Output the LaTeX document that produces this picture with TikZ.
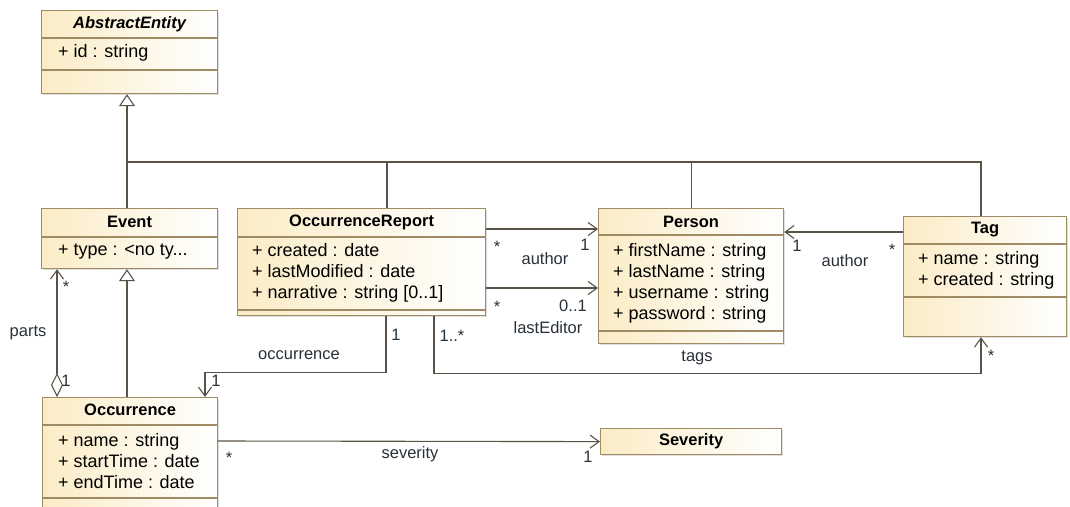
\documentclass[tikz,border=0pt]{standalone}
\usepackage{fontspec}
\setmainfont{Liberation Sans}
\usepackage{xcolor}
\usepackage{tikz}
\usetikzlibrary{calc}
\usetikzlibrary{arrows.meta}
\usetikzlibrary{shadows}
\definecolor{boxline}{RGB}{160,140,100}
\definecolor{boxfill}{RGB}{251,236,198}
\definecolor{wirec}{RGB}{90,82,70}
\definecolor{lblc}{RGB}{40,48,58}
\tikzstyle{classbox} = [draw=boxline, line width=1.2pt, rectangle, anchor=north west,
left color=boxfill, right color=white,
drop shadow={shadow xshift=1.5pt, shadow yshift=-1.5pt, opacity=0.25}]
\tikzstyle{ctitle} = [font=\fontsize{16.5}{18}\selectfont\bfseries, inner sep=0pt]
\tikzstyle{attr} = [font=\fontsize{18}{21}\selectfont, align=left, anchor=west, inner sep=0pt]
\tikzstyle{divider} = [draw=boxline, line width=1.2pt]
\tikzstyle{plain} = [draw=wirec, line width=1.1pt]
\tikzstyle{assoc} = [plain, -{Straight Barb[length=9pt,width=13pt]}]
\tikzstyle{gen} = [plain, -{Triangle[open,length=12pt,width=16pt,fill=white]}]
\tikzstyle{lbl} = [font=\fontsize{16.5}{18}\selectfont, text=lblc, inner sep=0pt]

\begin{document}
\begin{tikzpicture}[x=1pt, y=-1pt]
\useasboundingbox (0,0) rectangle (1070,506);

\node[classbox, minimum width=176pt, minimum height=83pt] (abstract) at (41,10) {};
\node[ctitle, font=\fontsize{16.5}{18}\selectfont\bfseries\itshape] at ($(abstract.north)+(0,14)$) {AbstractEntity};
\draw[divider] ($(abstract.north west)+(0,28)$) -- ($(abstract.north east)+(0,28)$);
\node[attr] at ($(abstract.north west)+(17,43)$) {+ id : string};
\draw[divider] ($(abstract.north west)+(0,60)$) -- ($(abstract.north east)+(0,60)$);

\node[classbox, minimum width=176pt, minimum height=60pt] (event) at (41,208) {};
\node[ctitle] at ($(event.north)+(0,14)$) {Event};
\draw[divider] ($(event.north west)+(0,29)$) -- ($(event.north east)+(0,29)$);
\node[attr] at ($(event.north west)+(17,44)$) {+ type : <no ty...};

\node[classbox, minimum width=248pt, minimum height=107pt] (report) at (237,208) {};
\node[ctitle] at ($(report.north)+(0,14)$) {OccurrenceReport};
\draw[divider] ($(report.north west)+(0,29)$) -- ($(report.north east)+(0,29)$);
\node[attr] at ($(report.north west)+(15,65)$) {+ created : date\\+ lastModified : date\\+ narrative : string [0..1]};
\draw[divider] ($(report.north west)+(0,102)$) -- ($(report.north east)+(0,102)$);

\node[classbox, minimum width=185pt, minimum height=135pt] (person) at (598,208) {};
\node[ctitle] at ($(person.north)+(0,14)$) {Person};
\draw[divider] ($(person.north west)+(0,27)$) -- ($(person.north east)+(0,27)$);
\node[attr] at ($(person.north west)+(15,75)$) {+ firstName : string\\+ lastName : string\\+ username : string\\+ password : string};
\draw[divider] ($(person.north west)+(0,123)$) -- ($(person.north east)+(0,123)$);

\node[classbox, minimum width=163pt, minimum height=120pt] (tag) at (903,216) {};
\node[ctitle] at ($(tag.north)+(0,14)$) {Tag};
\draw[divider] ($(tag.north west)+(0,28)$) -- ($(tag.north east)+(0,28)$);
\node[attr] at ($(tag.north west)+(15,54)$) {+ name : string\\+ created : string};
\draw[divider] ($(tag.north west)+(0,81)$) -- ($(tag.north east)+(0,81)$);

\node[classbox, minimum width=175pt, minimum height=115pt] (occ) at (42,397) {};
\node[ctitle] at ($(occ.north)+(0,13)$) {Occurrence};
\draw[divider] ($(occ.north west)+(0,28)$) -- ($(occ.north east)+(0,28)$);
\node[attr] at ($(occ.north west)+(16,64)$) {+ name : string\\+ startTime : date\\+ endTime : date};
\draw[divider] ($(occ.north west)+(0,101)$) -- ($(occ.north east)+(0,101)$);

\node[classbox, minimum width=181pt, minimum height=26pt] (severity) at (600,428) {};
\node[ctitle] at (severity.center) {Severity};

\coordinate (bus) at (127,162);
\draw[gen] (bus) -- (bus |- abstract.south);
\draw[plain] (bus |- event.north) -- (bus);
\draw[plain] ($(report.north west)+(150,0)$) |- (bus);
\draw[plain] (person.north) |- (bus);
\draw[plain] ($(tag.north west)+(78,0)$) |- (bus);
\draw[gen] (bus |- occ.north) -- (bus |- event.south);
\draw[plain, {Diamond[open,length=24pt,width=12pt]}-{Straight Barb[length=9pt,width=13pt]}] ($(occ.north west)+(15,0)$) -- ($(event.south west)+(16,0)$);
\draw[assoc] ($(report.north east)+(0,21)$) -- ($(person.north west)+(0,21)$);
\draw[assoc] ($(report.north east)+(0,80)$) -- ($(person.north west)+(0,80)$);
\draw[assoc] ($(tag.north west)+(0,16)$) -- ($(person.north east)+(0,24)$);
\draw[assoc] ($(report.south west)+(149,0)$) -- ++(0,56) -| ($(occ.north west)+(163,0)$);
\draw[assoc] ($(report.south west)+(197,0)$) -- ++(0,57) -| ($(tag.south west)+(78,0)$);
\draw[assoc] ($(occ.north east)+(0,44)$) -- (severity.west);

\node[lbl] at (28,333) {parts};
\node[lbl] at (66,287) {*};
\node[lbl] at (66,381) {1};
\node[lbl] at (497,247) {*};
\node[lbl] at (585,245) {1};
\node[lbl] at (545,259) {author};
\node[lbl] at (497,307) {*};
\node[lbl] at (573,306) {0..1};
\node[lbl] at (548,328) {lastEditor};
\node[lbl] at (797,246) {1};
\node[lbl] at (892,250) {*};
\node[lbl] at (845,261) {author};
\node[lbl] at (396,335) {1};
\node[lbl] at (299,355) {occurrence};
\node[lbl] at (216,381) {1};
\node[lbl] at (452,336) {1..*};
\node[lbl] at (697,358) {tags};
\node[lbl] at (991,356) {*};
\node[lbl] at (229,458) {*};
\node[lbl] at (410,454) {severity};
\node[lbl] at (588,457) {1};
\end{tikzpicture}
\end{document}
